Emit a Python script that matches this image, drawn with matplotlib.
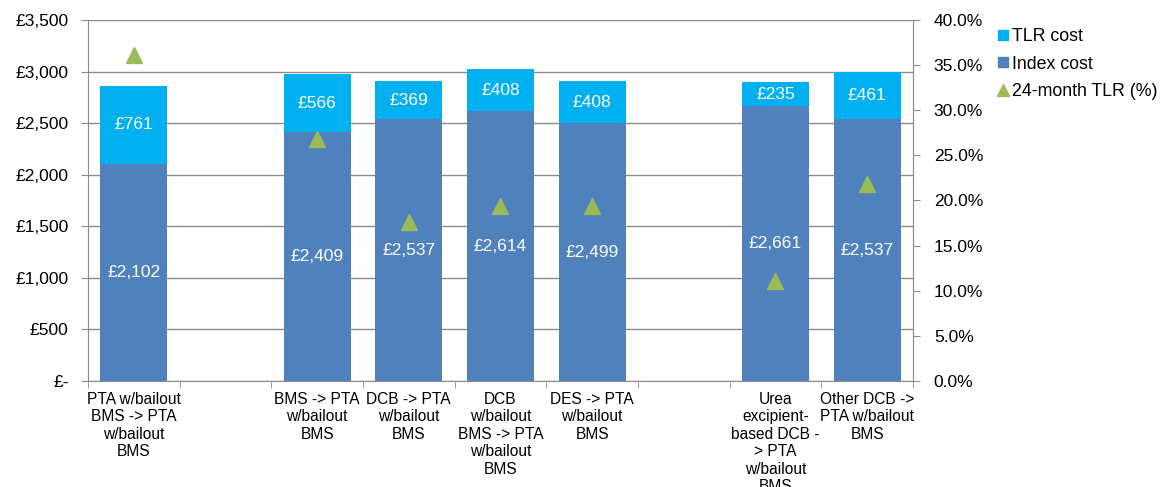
import numpy as np
import matplotlib.pyplot as plt
from matplotlib.lines import Line2D
from matplotlib.ticker import FuncFormatter

plt.rcParams['font.family'] = ['Liberation Sans', 'DejaVu Sans']

# =========================
# DATA
# =========================
categories = [
    "PTA w/bailout\nBMS -> PTA\nw/bailout\nBMS",
    "",
    "BMS -> PTA\nw/bailout\nBMS",
    "DCB -> PTA\nw/bailout\nBMS",
    "DCB\nw/bailout\nBMS -> PTA\nw/bailout\nBMS",
    "DES -> PTA\nw/bailout\nBMS",
    "",
    "Urea\nexcipient-\nbased DCB -\n> PTA\nw/bailout\nBMS",
    "Other DCB ->\nPTA w/bailout\nBMS",
]
index_cost = np.array([2102, np.nan, 2409, 2537, 2614, 2499, np.nan, 2661, 2537])
tlr_cost = np.array([761, np.nan, 566, 369, 408, 408, np.nan, 235, 461])
tlr_pct = np.array([36.1, np.nan, 26.8, 17.6, 19.4, 19.4, np.nan, 11.1, 21.8])

c_index = '#4F81BD'
c_tlr = '#00B0F0'
c_tri = '#9BBB59'
c_axis = '#8C8C8C'

# =========================
# PLOT
# =========================
fig = plt.figure(figsize=(11.62, 4.87), dpi=100)
ax = fig.add_axes([0.0757, 0.218, 0.710, 0.741])
x = np.arange(len(categories))
w = 0.73

ax.bar(x, index_cost, w, color=c_index, zorder=2)
ax.bar(x, tlr_cost, w, bottom=index_cost, color=c_tlr, zorder=2)

for i in range(len(x)):
    if np.isnan(index_cost[i]):
        continue
    ax.text(x[i], index_cost[i] / 2, f"£{index_cost[i]:,.0f}", color='white',
            ha='center', va='center', fontsize=12.5, zorder=3)
    ax.text(x[i], index_cost[i] + tlr_cost[i] / 2, f"£{tlr_cost[i]:,.0f}", color='white',
            ha='center', va='center', fontsize=12.5, zorder=3)

ax.set_xlim(-0.5, len(categories) - 0.5)
ax.set_ylim(0, 3500)
ax.set_yticks(np.arange(0, 3501, 500))
ax.yaxis.set_major_formatter(FuncFormatter(lambda v, p: "£-" if v == 0 else f"£{v:,.0f}"))
ax.grid(axis='y', color=c_axis, linewidth=1, zorder=0)
ax.set_xticks(x)
ax.set_xticklabels(categories, fontsize=11.2, linespacing=1.2)
ax.set_xticks(np.arange(-0.5, len(categories)), minor=True)
ax.tick_params(axis='x', which='major', length=0, pad=8)
ax.tick_params(axis='x', which='minor', length=5, color=c_axis)
ax.tick_params(axis='y', labelsize=12.5, length=5, color=c_axis, pad=9)
for s in ['left', 'bottom', 'right']:
    ax.spines[s].set_color(c_axis)
ax.spines['top'].set_visible(False)

ax2 = ax.twinx()
ax2.plot(x, tlr_pct, linestyle='none', marker='^', markersize=12, color=c_tri, zorder=4)
ax2.set_ylim(0, 40)
ax2.set_yticks(np.arange(0, 40.1, 5))
ax2.yaxis.set_major_formatter(FuncFormatter(lambda v, p: f"{v:.1f}%"))
ax2.tick_params(axis='y', labelsize=12.5, length=5, color=c_axis, pad=10)
for s in ['left', 'bottom', 'top']:
    ax2.spines[s].set_visible(False)
ax2.spines['right'].set_color(c_axis)

handles = [
    Line2D([], [], linestyle='none', marker='s', markersize=7, color=c_tlr),
    Line2D([], [], linestyle='none', marker='s', markersize=7, color=c_index),
    Line2D([], [], linestyle='none', marker='^', markersize=9, color=c_tri),
]
fig.legend(handles, ["TLR cost", "Index cost", "24-month TLR (%)"],
           loc='upper left', bbox_to_anchor=(0.851, 0.957), frameon=False,
           fontsize=12.8, handletextpad=0.1, handlelength=0.8, labelspacing=0.6,
           borderaxespad=0)

fig.savefig("out.png", dpi=100)
